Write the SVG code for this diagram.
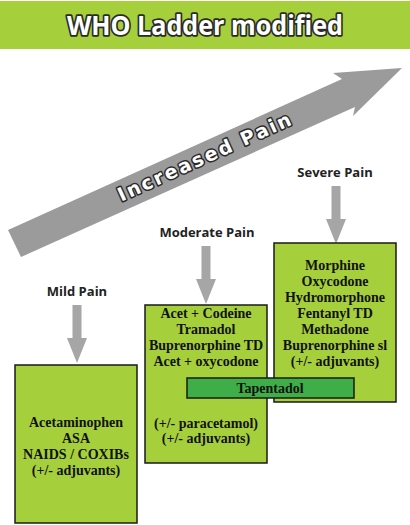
<svg xmlns="http://www.w3.org/2000/svg" width="410" height="525" viewBox="0 0 410 525">
<style>
.box{fill:#a6cf3c;stroke:#1a1a1a;stroke-width:1.5}
.tap{fill:#3fae49;stroke:#1a1a1a;stroke-width:1.5}
.drug{font-family:"Liberation Serif",serif;font-weight:bold;font-size:14px;fill:#111;text-anchor:middle}
.lbl{font-family:"Open Sans","Liberation Sans",sans-serif;font-weight:bold;font-size:13px;fill:#222;text-anchor:middle}
.down{fill:#a6a6a6}
.outl{fill:#fff;stroke:#2a2a2a;paint-order:stroke;stroke-linejoin:round}
</style>
<defs>
<path id="dn" d="M-4.5,0 H4.5 V33 H10 L0,58 L-10,33 H-4.5 Z"/>
</defs>
<rect width="410" height="525" fill="#fff"/>
<g id="title">
<rect x="0" y="1" width="410" height="48" fill="#a6cf3c"/>
<text x="205" y="35" class="outl" font-family="Open Sans, Liberation Sans, sans-serif" font-weight="bold" font-size="26" text-anchor="middle" stroke-width="3.5" textLength="276" lengthAdjust="spacingAndGlyphs">WHO Ladder modified</text>
</g>
<g id="increased-pain">
<path d="M8,230 L342,79 L333,73 L402,68 L353,116 L355,107 L21,257 Z" fill="#9b9b9b"/>
<text transform="translate(207,163) rotate(-24.3)" class="outl" font-family="DejaVu Sans, sans-serif" font-weight="bold" font-size="19" text-anchor="middle" stroke-width="3" textLength="188" lengthAdjust="spacing">Increased Pain</text>
</g>
<g id="connectors">
<use href="#dn" x="77" y="305" class="down"/>
<use href="#dn" x="206" y="246" class="down"/>
<use href="#dn" x="336" y="186" class="down"/>
</g>
<g id="mild">
<text x="77" y="296" class="lbl">Mild Pain</text>
<rect x="15" y="365" width="122" height="158" class="box"/>
<text class="drug"><tspan x="76" y="427">Acetaminophen</tspan><tspan x="76" y="443">ASA</tspan><tspan x="76" y="459">NAIDS / COXIBs</tspan><tspan x="76" y="475">(+/- adjuvants)</tspan></text>
</g>
<g id="moderate">
<text x="207" y="237" class="lbl">Moderate Pain</text>
<rect x="145" y="305" width="122" height="158" class="box"/>
<text class="drug"><tspan x="206" y="318">Acet + Codeine</tspan><tspan x="206" y="334">Tramadol</tspan><tspan x="206" y="350">Buprenorphine TD</tspan><tspan x="206" y="366">Acet + oxycodone</tspan><tspan x="206" y="428">(+/- paracetamol)</tspan><tspan x="206" y="443">(+/- adjuvants)</tspan></text>
</g>
<g id="severe">
<text x="335" y="177" class="lbl">Severe Pain</text>
<rect x="274" y="243" width="122" height="159" class="box"/>
<text class="drug"><tspan x="335" y="270">Morphine</tspan><tspan x="335" y="286">Oxycodone</tspan><tspan x="335" y="302">Hydromorphone</tspan><tspan x="335" y="318">Fentanyl TD</tspan><tspan x="335" y="334">Methadone</tspan><tspan x="335" y="350">Buprenorphine sl</tspan><tspan x="335" y="366">(+/- adjuvants)</tspan></text>
</g>
<g id="tapentadol">
<rect x="187" y="378" width="167" height="20" class="tap"/>
<text x="270" y="393" class="drug">Tapentadol</text>
</g>
</svg>
